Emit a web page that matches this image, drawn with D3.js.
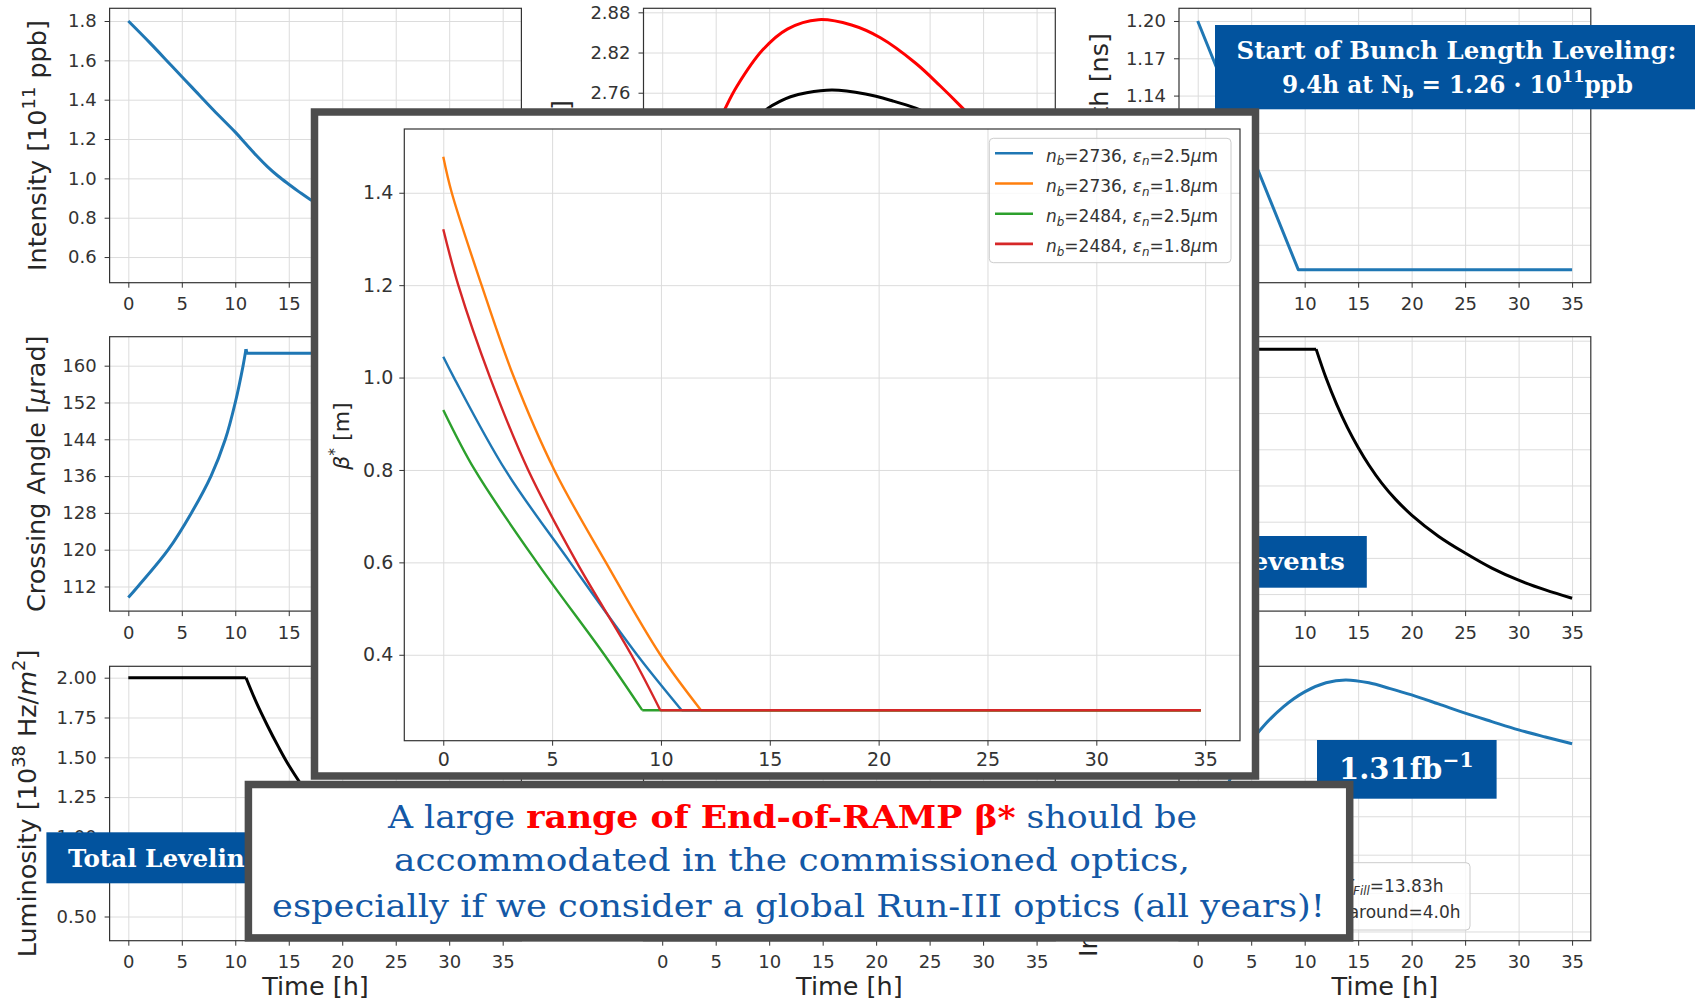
<!DOCTYPE html>
<html>
<head>
<meta charset="utf-8">
<script src="https://cdn.jsdelivr.net/npm/d3@7"></script>
<style>
body{margin:0;background:#fff;}
svg{display:block;}
</style>
</head>
<body>
<svg id="graph"></svg>
<script>
// shared time axis
var timeTicks=[0,5,10,15,20,25,30,35]
var earlyTimeLabels=[0,5,10,15]
var lateTimeLabels=[10,15,20,25,30,35]

// background panels
var intensity=[[0,1.80],[2,1.69],[4,1.575],[6,1.46],[8,1.345],[10,1.235],[11,1.175],[12,1.115],[13,1.06],[14,1.012],[15,0.97],[16,0.93],[17,0.893],[20,0.80],[25,0.68],[30,0.595],[35,0.532]]
var emitRed=[[0,2.50],[2,2.585],[4,2.67],[5.9,2.737],[7,2.77],[9.4,2.824],[11.7,2.855],[14.6,2.869],[17.7,2.861],[20.4,2.842],[23.7,2.804],[26,2.770],[27.9,2.740],[30,2.705],[35,2.62]]
var emitBlack=[[0,2.50],[3,2.58],[6,2.66],[8,2.705],[9.9,2.737],[11,2.747],[12,2.754],[13.5,2.760],[15.9,2.764],[19,2.758],[21.5,2.748],[23.7,2.737],[27,2.714],[30,2.69],[35,2.645]]
var bunchLength=[[0,1.20],[9.4,1.00],[35,1.00]]
var xingRise=[[0,109.6],[0.9,112],[3.73,120],[5.9,128],[7.73,136],[9.07,144],[10.0,152],[10.73,160],[11,163.6]]
var xingFlat=[[11,163.6],[11.1,162.7],[35,162.7]]
var pileupFlat=[[0,54.6],[11.07,54.6]]
var pileupDecay=[[11.07,54.6],[12,49.8],[13,45.4],[14,41.6],[15,38.3],[16,35.4],[17.2,32.4],[18.5,29.7],[20,27.1],[22.5,23.6],[25,20.8],[27.5,18.3],[30,16.3],[32.5,14.7],[35,13.3]]
var lumiFlat=[[0,2.0],[11,2.0]]
var lumiDecay=[[11,2.0],[12,1.84],[13,1.70],[14,1.57],[15,1.45],[17,1.25],[20,1.01],[25,0.74],[30,0.55],[35,0.43]]
var intLumi=[[0,0],[1,0.38],[2,0.62],[3,0.79],[4,0.9],[5,0.99],[6,1.06],[8,1.17],[10,1.248],[12,1.295],[13.83,1.31],[16,1.295],[18,1.265],[20,1.232],[22.5,1.185],[25,1.137],[27.5,1.093],[30,1.05],[32.5,1.013],[35,0.978]]

var intensityTicks=[0.6,0.8,1.0,1.2,1.4,1.6,1.8]
var emitTicks=[2.52,2.58,2.64,2.70,2.76,2.82,2.88]
var emitLabels=[2.76,2.82,2.88]
var bunchTicks=[1.02,1.05,1.08,1.11,1.14,1.17,1.20]
var bunchLabels=[1.14,1.17,1.20]
var xingTicks=[112,120,128,136,144,152,160]
var pileupTicks=[14,20,26,32,38,44,50,56]
var lumiTicks=[0.50,0.75,1.00,1.25,1.50,1.75,2.00]
var intLumiTicks=[0,0.2,0.4,0.6,0.8,1.0,1.2]

// inset: beta* vs time
var betaBlue=[[0,1.045],[0.49,1.0],[2.85,0.8],[5.83,0.6],[8.9,0.4],[10.95,0.28]]
var betaOrange=[[0,1.478],[0.39,1.4],[1.76,1.2],[3.25,1.0],[5.1,0.8],[7.47,0.6],[9.97,0.4],[11.84,0.28]]
var betaGreen=[[0,0.93],[1.45,0.8],[4.3,0.6],[7.4,0.4],[9.14,0.28]]
var betaRed=[[0,1.321],[0.69,1.2],[2.15,1.0],[3.9,0.8],[6.13,0.6],[8.64,0.4],[9.97,0.28]]
var betaFloor=0.28
var betaEnd=34.8
var betaTicks=[0.4,0.6,0.8,1.0,1.2,1.4]
var legendNb=[2736,2736,2484,2484]
var legendEps=["2.5","1.8","2.5","1.8"]

var tab=["#1f77b4","#ff7f0e","#2ca02c","#d62728"]
var boxBlue="#02539e"
var textBlue="#1358a6"
var sans="DejaVu Sans"
var serif="DejaVu Serif"
var smooth=d3.curveCatmullRom.alpha(0.5)

var svg=d3.select("#graph").attr("width",1695).attr("height",1002)

var addRich=function(textSel,parts,size)
{
    var shift=0
    parts.forEach(function(p)
    {
        var kind=p[1]||""
        var target=0
        var fs=size
        if(kind.indexOf("sup")>=0){target=-0.42*size;fs=size*0.7}
        if(kind.indexOf("sub")>=0){target=0.22*size;fs=size*0.7}
        var t=textSel.append("tspan").text(p[0]).attr("font-size",fs).attr("dy",target-shift)
        if(kind.indexOf("it")>=0) t.attr("font-style","italic")
        if(p[2]) t.attr("fill",p[2])
        if(kind.indexOf("bold")>=0) t.attr("font-weight","bold")
        shift=target
    })
}

var yLabel=function(x,y,anchor,parts)
{
    var t=svg.append("text")
    .attr("transform","translate("+x+","+y+") rotate(-90)")
    .attr("text-anchor",anchor)
    .attr("font-family",sans)
    .attr("font-size",25.5)
    .attr("fill","#262626")
    addRich(t,parts,25.5)
}

var styleAxis=function(sel,size,keep)
{
    sel.select(".domain").remove()
    sel.selectAll("line").attr("stroke","#333")
    sel.selectAll("text").attr("font-family",sans).attr("font-size",size).attr("fill","#333")
    if(keep)
    {
        sel.selectAll(".tick text").filter(function(d){return keep.indexOf(d)<0}).remove()
    }
}

var panelW=411.8
var panelH=274.4
var colX=[109.6,643.5,1179]
var rowY=[8.3,336.7,666.3]

var drawPanel=function(p)
{
    var x0=colX[p.col]
    var y0=rowY[p.row]
    var g=svg.append("g").attr("transform","translate("+x0+","+y0+")")
    var xScale=d3.scaleLinear().domain([-1.75,36.75]).range([0,panelW])
    var yScale=d3.scaleLinear().domain(p.yDomain).range([panelH,0])

    g.append("rect").attr("width",panelW).attr("height",panelH).attr("fill","#fff")

    var gx=g.append("g").attr("transform","translate(0,"+panelH+")")
    .call(d3.axisBottom(xScale).tickValues(timeTicks).tickSize(-panelH).tickFormat(""))
    gx.select(".domain").remove()
    gx.selectAll("line").attr("stroke","#dcdcdc")
    var gy=g.append("g")
    .call(d3.axisLeft(yScale).tickValues(p.yTicks).tickSize(-panelW).tickFormat(""))
    gy.select(".domain").remove()
    gy.selectAll("line").attr("stroke","#dcdcdc")

    p.lines.forEach(function(l)
    {
        var line=d3.line()
        .x(function(d){return xScale(d[0])})
        .y(function(d){return yScale(d[1])})
        .curve(l.linear?d3.curveLinear:smooth)
        g.append("path").datum(l.data)
        .attr("d",line)
        .attr("fill","none")
        .attr("stroke",l.color)
        .attr("stroke-width",3)
        .attr("stroke-linejoin","round")
    })

    g.append("rect").attr("width",panelW).attr("height",panelH)
    .attr("fill","none").attr("stroke","#333").attr("stroke-width",1.2)

    var ax=g.append("g").attr("transform","translate(0,"+panelH+")")
    .call(d3.axisBottom(xScale).tickValues(timeTicks).tickSize(5).tickPadding(10))
    styleAxis(ax,18,p.xLabels)
    var ay=g.append("g")
    .call(d3.axisLeft(yScale).tickValues(p.yTicks).tickSize(5).tickPadding(8).tickFormat(d3.format(p.fmt)))
    styleAxis(ay,18,p.yLabels)

    if(p.row==2)
    {
        g.append("text").attr("x",panelW/2).attr("y",panelH+54.5)
        .attr("text-anchor","middle").attr("font-family",sans).attr("font-size",25.5)
        .attr("fill","#262626").text("Time [h]")
    }
}

drawPanel({col:0,row:0,yDomain:[0.4696,1.8646],yTicks:intensityTicks,fmt:".1f",xLabels:earlyTimeLabels,
    lines:[{data:intensity,color:tab[0]}]})
drawPanel({col:1,row:0,yDomain:[2.4765,2.886],yTicks:emitTicks,fmt:".2f",xLabels:[],yLabels:emitLabels,
    lines:[{data:emitRed,color:"#ff0000"},{data:emitBlack,color:"#000"}]})
drawPanel({col:2,row:0,yDomain:[0.9895,1.2102],yTicks:bunchTicks,fmt:".2f",xLabels:lateTimeLabels,yLabels:bunchLabels,
    lines:[{data:bunchLength,color:tab[0],linear:true}]})
drawPanel({col:0,row:1,yDomain:[106.65,166.3],yTicks:xingTicks,fmt:"d",xLabels:earlyTimeLabels,
    lines:[{data:xingRise,color:tab[0]},{data:xingFlat,color:tab[0],linear:true}]})
drawPanel({col:2,row:1,yDomain:[11.18,56.66],yTicks:pileupTicks,fmt:"d",xLabels:lateTimeLabels,yLabels:[],
    lines:[{data:pileupFlat,color:"#000",linear:true},{data:pileupDecay,color:"#000"}]})
drawPanel({col:0,row:2,yDomain:[0.348,2.0716],yTicks:lumiTicks,fmt:".2f",
    lines:[{data:lumiFlat,color:"#000",linear:true},{data:lumiDecay,color:"#000"}]})
drawPanel({col:1,row:2,yDomain:[0,1],yTicks:[],fmt:".1f",yLabels:[],lines:[]})
drawPanel({col:2,row:2,yDomain:[-0.048,1.381],yTicks:intLumiTicks,fmt:".1f",yLabels:[],
    lines:[{data:intLumi,color:tab[0]}]})

// y labels (only the parts not hidden by the overlays)
yLabel(46,145.5,"middle",[["Intensity [10"],["11","sup"],[" ppb]"]])
yLabel(570,100,"end",[["ε","it"],["n","sub it"],[" [μm]"]])
yLabel(1108,33,"end",[["th [ns]"]])
yLabel(45,473.7,"middle",[["Crossing Angle ["],["μ","it"],["rad]"]])
yLabel(36,803.5,"middle",[["Luminosity [10"],["38","sup"],[" Hz/"],["m","it"],["2","sup"],["]"]])
yLabel(1097,957,"start",[["In"]])

// annotation boxes
var note=svg.append("g")
note.append("rect").attr("x",1215).attr("y",25).attr("width",480).attr("height",84.3).attr("fill",boxBlue)
note.append("text").attr("x",1236.6).attr("y",58.5).attr("font-family",serif).attr("font-weight","bold")
.attr("font-size",24).attr("fill","#fff").attr("textLength",440).attr("lengthAdjust","spacingAndGlyphs")
.text("Start of Bunch Length Leveling:")
var n2=note.append("text").attr("x",1282).attr("y",92.5).attr("font-family",serif).attr("font-weight","bold")
.attr("font-size",24).attr("fill","#fff").attr("textLength",351).attr("lengthAdjust","spacingAndGlyphs")
addRich(n2,[["9.4h at N"],["b","sub"],[" = 1.26 · 10"],["11","sup"],["ppb"]],24)

note.append("rect").attr("x",1100).attr("y",536).attr("width",266.8).attr("height",51.7).attr("fill",boxBlue)
note.append("text").attr("x",1344.8).attr("y",570).attr("text-anchor","end").attr("font-family",serif)
.attr("font-weight","bold").attr("font-size",24).attr("fill","#fff")
.attr("textLength",93).attr("lengthAdjust","spacingAndGlyphs").text("events")

note.append("rect").attr("x",46.4).attr("y",832.3).attr("width",360).attr("height",51).attr("fill",boxBlue)
note.append("text").attr("x",67.9).attr("y",866.7).attr("font-family",serif)
.attr("font-weight","bold").attr("font-size",24).attr("fill","#fff")
.attr("textLength",194).attr("lengthAdjust","spacingAndGlyphs").text("Total Leveling")

note.append("rect").attr("x",1317).attr("y",740).attr("width",179.6).attr("height",58.7).attr("fill",boxBlue)
var n3=note.append("text").attr("x",1339).attr("y",779.3).attr("font-family",serif)
.attr("font-weight","bold").attr("font-size",29).attr("fill","#fff")
addRich(n3,[["1.31fb"],["−1","sup"]],29)

// small legend of the bottom-right panel
note.append("rect").attr("x",1290).attr("y",862.7).attr("width",180).attr("height",67.3).attr("rx",4)
.attr("fill","#fff").attr("fill-opacity",0.8).attr("stroke","#ccc")
var l1=note.append("text").attr("x",1443.5).attr("y",891.7).attr("text-anchor","end")
.attr("font-family",sans).attr("font-size",17).attr("fill","#333")
addRich(l1,[["T","it"],["Fill","sub it"],["=13.83h"]],17)
note.append("text").attr("x",1460.5).attr("y",918.3).attr("text-anchor","end")
.attr("font-family",sans).attr("font-size",17).attr("fill","#333").text("Turnaround=4.0h")

// inset with beta* curves
var inset=svg.append("g")
inset.append("rect").attr("x",314.5).attr("y",112).attr("width",941).attr("height",664)
.attr("fill","#fff").attr("stroke","#4d4d4d").attr("stroke-width",7.5)

var ib={left:404.3,top:129,right:1240,bottom:740.7}
var bx=d3.scaleLinear().domain([-1.79,36.6]).range([ib.left,ib.right])
var by=d3.scaleLinear().domain([0.214,1.538]).range([ib.bottom,ib.top])

var igx=inset.append("g").attr("transform","translate(0,"+ib.bottom+")")
.call(d3.axisBottom(bx).tickValues(timeTicks).tickSize(-(ib.bottom-ib.top)).tickFormat(""))
igx.select(".domain").remove()
igx.selectAll("line").attr("stroke","#dcdcdc")
var igy=inset.append("g").attr("transform","translate("+ib.left+",0)")
.call(d3.axisLeft(by).tickValues(betaTicks).tickSize(-(ib.right-ib.left)).tickFormat(""))
igy.select(".domain").remove()
igy.selectAll("line").attr("stroke","#dcdcdc")

var betaSeries=[betaBlue,betaOrange,betaGreen,betaRed]
var betaLine=d3.line()
.x(function(d){return bx(d[0])})
.y(function(d){return by(d[1])})
.curve(smooth)
var flatLine=d3.line()
.x(function(d){return bx(d[0])})
.y(function(d){return by(d[1])})
betaSeries.forEach(function(s,i)
{
    inset.append("path").datum(s).attr("d",betaLine).attr("fill","none")
    .attr("stroke",tab[i]).attr("stroke-width",2.4)
    var last=s[s.length-1]
    inset.append("path").datum([last,[betaEnd,betaFloor]]).attr("d",flatLine).attr("fill","none")
    .attr("stroke",tab[i]).attr("stroke-width",2.6)
})

inset.append("rect").attr("x",ib.left).attr("y",ib.top)
.attr("width",ib.right-ib.left).attr("height",ib.bottom-ib.top)
.attr("fill","none").attr("stroke","#333").attr("stroke-width",1.2)

var iax=inset.append("g").attr("transform","translate(0,"+ib.bottom+")")
.call(d3.axisBottom(bx).tickValues(timeTicks).tickSize(5).tickPadding(7))
styleAxis(iax,19)
var iay=inset.append("g").attr("transform","translate("+ib.left+",0)")
.call(d3.axisLeft(by).tickValues(betaTicks).tickSize(5).tickPadding(6).tickFormat(d3.format(".1f")))
styleAxis(iay,19)

var il=inset.append("text")
.attr("transform","translate(349,436) rotate(-90)")
.attr("text-anchor","middle").attr("font-family",sans).attr("font-size",22).attr("fill","#262626")
addRich(il,[["β","it"],["*","sup"],[" [m]"]],22)

// legend
var leg=inset.append("g")
leg.append("rect").attr("x",989.3).attr("y",138.3).attr("width",241.7).attr("height",124.4).attr("rx",4)
.attr("fill","#fff").attr("fill-opacity",0.8).attr("stroke","#ccc")
legendNb.forEach(function(nb,i)
{
    var cy=153.3+i*30.2
    leg.append("line").attr("x1",995).attr("x2",1033).attr("y1",cy).attr("y2",cy)
    .attr("stroke",tab[i]).attr("stroke-width",2.6)
    var t=leg.append("text").attr("x",1046).attr("y",cy+8.4)
    .attr("font-family",sans).attr("font-size",17).attr("fill","#333")
    addRich(t,[["n","it"],["b","sub it"],["="+nb+", "],["ε","it"],["n","sub it"],["="+legendEps[i]],["μ","it"],["m"]],17)
})

// closing message
var msg=svg.append("g")
msg.append("rect").attr("x",248.4).attr("y",784.5).attr("width",1101.3).attr("height",153.4)
.attr("fill","#fff").attr("stroke","#4d4d4d").attr("stroke-width",7.5)
var m1=msg.append("text").attr("x",388).attr("y",828.3).attr("font-family",serif).attr("font-size",32)
.attr("fill",textBlue).attr("textLength",809).attr("lengthAdjust","spacingAndGlyphs")
addRich(m1,[["A large "],["range of End-of-RAMP β*","bold","#ff0000"],[" should be"]],32)
msg.append("text").attr("x",394).attr("y",870.5).attr("font-family",serif).attr("font-size",32)
.attr("fill",textBlue).attr("textLength",796).attr("lengthAdjust","spacingAndGlyphs")
.text("accommodated in the commissioned optics,")
msg.append("text").attr("x",272).attr("y",917).attr("font-family",serif).attr("font-size",32)
.attr("fill",textBlue).attr("textLength",1053).attr("lengthAdjust","spacingAndGlyphs")
.text("especially if we consider a global Run-III optics (all years)!")
</script>
</body>
</html>
